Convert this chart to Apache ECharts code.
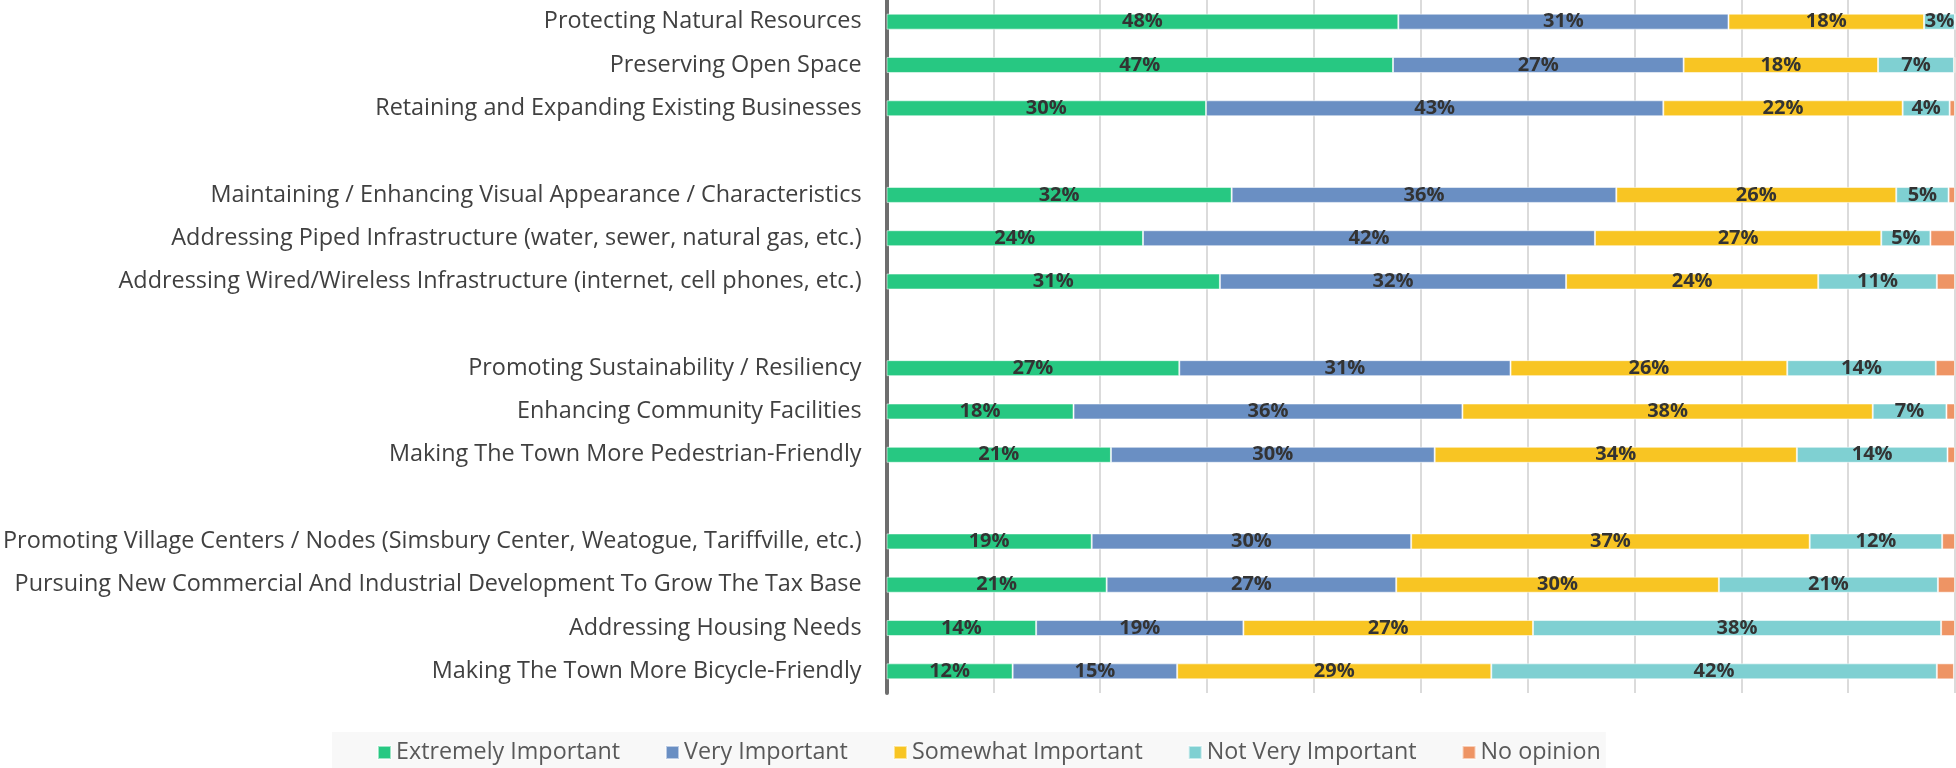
<!DOCTYPE html>
<html>
<head>
<meta charset="utf-8">
<script src="https://cdn.jsdelivr.net/npm/echarts@6/dist/echarts.min.js"></script>
<style>
  html, body { margin: 0; padding: 0; background: #ffffff; }
  #main { width: 1956px; height: 768px; }
</style>
</head>
<body>
<div id="main"></div>
<script>
// categories top to bottom, blank rows separate the groups
const categories = [
  "Protecting Natural Resources",
  "Preserving Open Space",
  "Retaining and Expanding Existing Businesses",
  " ",
  "Maintaining / Enhancing Visual Appearance / Characteristics",
  "Addressing Piped Infrastructure (water, sewer, natural gas, etc.)",
  "Addressing Wired/Wireless Infrastructure (internet, cell phones, etc.)",
  "  ",
  "Promoting Sustainability / Resiliency",
  "Enhancing Community Facilities",
  "Making The Town More Pedestrian-Friendly",
  "   ",
  "Promoting Village Centers / Nodes (Simsbury Center, Weatogue, Tariffville, etc.)",
  "Pursuing New Commercial And Industrial Development To Grow The Tax Base",
  "Addressing Housing Needs",
  "Making The Town More Bicycle-Friendly"
];

// percentages, '-' for the blank rows
const extremelyImportant = [47.9, 47.4, 29.9, '-', 32.3, 24.0, 31.2, '-', 27.4, 17.5, 21.0, '-', 19.2, 20.6, 14.0, 11.8];
const veryImportant      = [30.9, 27.2, 42.8, '-', 36.0, 42.3, 32.4, '-', 31.0, 36.4, 30.3, '-', 29.9, 27.1, 19.4, 15.4];
const somewhatImportant  = [18.3, 18.2, 22.4, '-', 26.2, 26.8, 23.6, '-', 25.9, 38.4, 33.9, '-', 37.3, 30.2, 27.1, 29.4];
const notVeryImportant   = [2.9, 7.1, 4.4, '-', 4.9, 4.6, 11.1, '-', 13.9, 6.9, 14.1, '-', 12.4, 20.5, 38.2, 41.7];
const noOpinion          = [0, 0.3, 0.5, '-', 0.6, 2.3, 1.7, '-', 1.8, 0.8, 0.7, '-', 1.2, 1.6, 1.3, 1.6];

const seriesNames = ["Extremely Important", "Very Important", "Somewhat Important", "Not Very Important", "No opinion"];
const seriesColors = ["#27c882", "#6a8fc3", "#f8c523", "#7fd0d2", "#ee9464"];
const seriesData = [extremelyImportant, veryImportant, somewhatImportant, notVeryImportant, noOpinion];

const chart = echarts.init(document.getElementById("main"));

chart.setOption({
  animation: false,
  textStyle: { fontFamily: "Open Sans" },
  grid: {
    left: 885,
    right: 1,
    top: 0,
    bottom: 75
  },
  legend: {
    data: seriesNames,
    left: 332,
    top: 732,
    padding: [9, 5, 9, 45],
    backgroundColor: "#f8f8f8",
    itemWidth: 13,
    itemHeight: 13,
    itemGap: 45,
    icon: "rect",
    textStyle: {
      color: "#595959",
      fontSize: 23.3,
      fontFamily: "Open Sans"
    }
  },
  xAxis: {
    type: "value",
    min: 0,
    max: 100,
    interval: 10,
    axisLabel: { show: false },
    axisLine: { show: false },
    axisTick: { show: false },
    splitLine: {
      show: true,
      lineStyle: { color: "#cfcfcf", width: 1.5 }
    }
  },
  yAxis: {
    type: "category",
    inverse: true,
    data: categories,
    axisTick: { show: false },
    axisLine: {
      show: true,
      lineStyle: { color: "#6e6e6e", width: 4 }
    },
    axisLabel: {
      margin: 25,
      color: "#404040",
      fontSize: 23.4,
      fontFamily: "Open Sans"
    }
  },
  series: seriesNames.map(function (name, i) {
    return {
      name: name,
      type: "bar",
      stack: "total",
      barWidth: 16,
      data: seriesData[i],
      itemStyle: {
        color: seriesColors[i],
        borderColor: "rgba(255,255,255,0.55)",
        borderWidth: 1
      },
      label: {
        show: i < 4,
        position: "inside",
        color: "#333333",
        fontSize: 20,
        fontWeight: "bold",
        fontFamily: "Open Sans",
        formatter: function (p) {
          return Math.round(p.value) + "%";
        }
      }
    };
  })
});
</script>
</body>
</html>
